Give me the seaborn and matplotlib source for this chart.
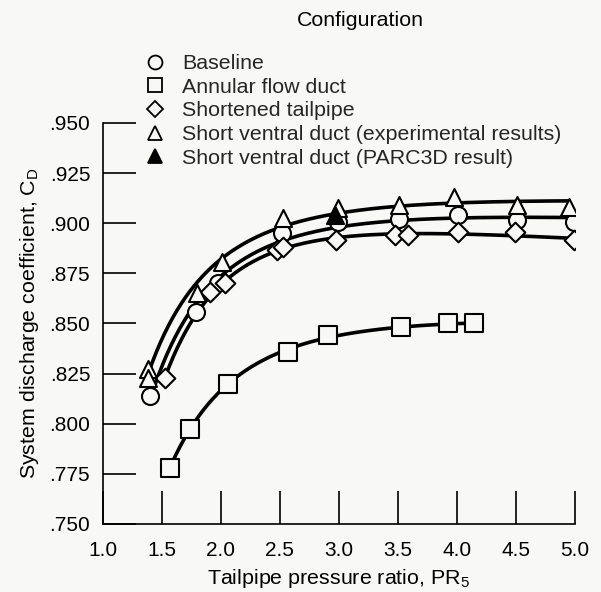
import numpy as np
import pandas as pd
import matplotlib
matplotlib.use("Agg")
import matplotlib.pyplot as plt
import seaborn as sns
from matplotlib.lines import Line2D

# values
baseline_pr = [1.40, 1.79, 1.98, 2.52, 2.99, 3.51, 4.01, 4.51, 4.99]
baseline_cd = [0.814, 0.8555, 0.870, 0.895, 0.9005, 0.902, 0.904, 0.9015, 0.9005]

annular_pr = [1.57, 1.74, 2.06, 2.57, 2.91, 3.53, 3.93, 4.15]
annular_cd = [0.778, 0.7975, 0.820, 0.836, 0.844, 0.848, 0.850, 0.850]

shortened_pr = [1.53, 1.91, 2.04, 2.48, 2.53, 2.98, 3.48, 3.59, 4.01, 4.49, 4.99]
shortened_cd = [0.823, 0.8655, 0.870, 0.8865, 0.888, 0.8915, 0.894, 0.894, 0.8955, 0.8955, 0.8915]

ventral_exp_pr = [1.38, 1.38, 1.80, 2.01, 2.53, 2.99, 3.51, 3.98, 4.51, 4.95]
ventral_exp_cd = [0.8275, 0.823, 0.865, 0.8805, 0.9025, 0.9075, 0.909, 0.913, 0.909, 0.908]

ventral_parc_pr = [2.97]
ventral_parc_cd = [0.904]

labels = ["Baseline", "Annular flow duct", "Shortened tailpipe",
          "Short ventral duct (experimental results)",
          "Short ventral duct (PARC3D result)"]
markers = ["o", "s", "D", "^", "^"]
fills = ["none", "none", "none", "none", "black"]

series = [(baseline_pr, baseline_cd), (annular_pr, annular_cd),
          (shortened_pr, shortened_cd), (ventral_exp_pr, ventral_exp_cd),
          (ventral_parc_pr, ventral_parc_cd)]

df = pd.concat([pd.DataFrame({"pr": x, "cd": y, "config": lab})
                for (x, y), lab in zip(series, labels)], ignore_index=True)

sns.set_theme(style="white")
plt.rcParams["font.family"] = ["Liberation Sans", "DejaVu Sans"]
plt.rcParams["mathtext.fontset"] = "custom"
plt.rcParams["mathtext.rm"] = "Liberation Sans"
plt.rcParams["mathtext.it"] = "Liberation Sans"

bg = "#f8f8f7"
fs = 15.4
fig = plt.figure(figsize=(6.01, 5.92), dpi=100, facecolor=bg)
ax = fig.add_axes([0.1709, 0.1149, 0.7854, 0.6774])
ax.set_facecolor(bg)

# smooth faired curves through the three upper series and the annular series
for (x, y) in series[:4]:
    x = np.asarray(x)
    y = np.asarray(y)
    A = np.column_stack([np.ones_like(x), 1 / x, 1 / x ** 2])
    coef, *_ = np.linalg.lstsq(A, y, rcond=None)
    xs = np.linspace(x.min(), x.max(), 200)
    ys = coef[0] + coef[1] / xs + coef[2] / xs ** 2
    sns.lineplot(x=xs, y=ys, ax=ax, color="black", lw=2.6, zorder=2)

for lab, mk, fc in zip(labels, markers, fills):
    sub = df[df["config"] == lab]
    sns.scatterplot(data=sub, x="pr", y="cd", ax=ax, marker=mk,
                    s=150 if mk != "D" else 100, facecolor=bg if fc == "none" else fc,
                    edgecolor="black", linewidth=1.5, zorder=3, legend=False)

ax.set_xlim(1.0, 5.0)
ax.set_ylim(0.750, 0.950)
ax.set_xticks(np.arange(1.0, 5.01, 0.5))
ax.set_yticks(np.arange(0.750, 0.951, 0.025))
ax.set_xticklabels([f"{v:.1f}" for v in np.arange(1.0, 5.01, 0.5)])
ax.set_yticklabels([f"{v:.3f}"[1:] for v in np.arange(0.750, 0.951, 0.025)])
ax.tick_params(direction="in", length=24, width=1.2, color="black",
               labelsize=15, labelcolor="black", bottom=True, left=True)
ax.tick_params(axis="x", pad=12)
ax.tick_params(axis="y", pad=9)
for s in ["top", "right"]:
    ax.spines[s].set_visible(False)
for s in ["left", "bottom"]:
    ax.spines[s].set_color("black")
    ax.spines[s].set_linewidth(1.2)

ax.set_xlabel("Tailpipe pressure ratio, PR$_5$", fontsize=fs, color="black", labelpad=5)
ax.set_ylabel("System discharge coefficient, C$_D$", fontsize=fs, color="black", labelpad=6)

fig.text(360 / 601, 1 - 20 / 592, "Configuration", ha="center", va="center",
         fontsize=fs, color="black")
handles = [Line2D([], [], ls="none", marker=mk, markersize=10 if mk != "D" else 8,
                  markerfacecolor="none" if fc == "none" else fc,
                  markeredgecolor="black", markeredgewidth=1.3)
           for mk, fc in zip(markers, fills)]
fig.legend(handles, labels, loc="upper left", bbox_to_anchor=(144 / 601, 1 - 54 / 592),
           frameon=False, fontsize=fs, handlelength=1.0, handletextpad=0.8,
           labelspacing=0.22, borderaxespad=0, borderpad=0)

fig.savefig("out.png", dpi=100, facecolor=bg)
